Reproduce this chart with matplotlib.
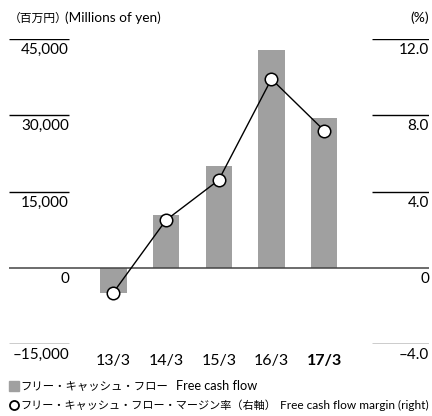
import numpy as np
import matplotlib.pyplot as plt
from matplotlib.patches import Rectangle
from matplotlib.lines import Line2D

plt.rcParams['font.family'] = ['Lato', 'Noto Sans CJK JP', 'DejaVu Sans']

# data
years = ['13/3', '14/3', '15/3', '16/3', '17/3']
fcf = [-5000, 10300, 20000, 42900, 29500]          # millions of yen
margin = [-1.3, 2.5, 4.6, 9.9, 7.2]                 # %
left_ticks = [45000, 30000, 15000, 0, -15000]
left_labels = ['45,000', '30,000', '15,000', '0', '\u201315,000']
right_ticks = [12.0, 8.0, 4.0, 0, -4.0]
right_labels = ['12.0', '8.0', '4.0', '0', '\u20134.0']

W, H = 432, 416
fig = plt.figure(figsize=(W / 100, H / 100), dpi=100)
ax = fig.add_axes([9 / W, (H - 344) / H, 420 / W, (344 - 39) / H])
ax2 = ax.twinx()

x = np.arange(len(years))
bar_col = '#a0a0a0'
ax.bar(x, fcf, width=0.5, color=bar_col, zorder=2)
ax.set_xlim(-1.98, 5.99)
ax.set_ylim(-15000, 45000)
ax2.set_ylim(-4, 12)

ax2.plot(x, margin, color='black', lw=1, marker='o', ms=9,
         mfc='white', mec='black', mew=1.1, zorder=5)

for a in (ax, ax2):
    for s in a.spines.values():
        s.set_visible(False)
    a.set_xticks([])
    a.set_yticks([])

# tick lines + labels (left)
lx = 60 / 420
for v, lab in zip(left_ticks, left_labels):
    if v == 0:
        ax.axhline(0, color='#444444', lw=1.1, zorder=3)
    else:
        ax.hlines(v, 0, lx, color='black', lw=1, transform=ax.get_yaxis_transform())
    ax.annotate(lab, (lx, v), xycoords=('axes fraction', 'data'),
                xytext=(0, -8), textcoords='offset points',
                ha='right', va='center', fontsize=11)

# tick lines + labels (right)
rx = (372 - 9) / 420
for v, lab in zip(right_ticks, right_labels):
    if v != 0:
        ax2.hlines(v, rx, 1, color='black', lw=1, transform=ax2.get_yaxis_transform())
    ax2.annotate(lab, (1, v), xycoords=('axes fraction', 'data'),
                 xytext=(0, -8), textcoords='offset points',
                 ha='right', va='center', fontsize=11)

# category labels
for i, yr in enumerate(years):
    ax.annotate(yr, (i, 0), xycoords=('data', 'axes fraction'),
                xytext=(0, -12.5), textcoords='offset points',
                ha='center', va='center', fontsize=11.5,
                fontweight='bold' if i == len(years) - 1 else 'normal')

# headers
fig.text(9 / W, 1 - 18 / H, '（百万円）', ha='left', va='center', fontsize=8.5)
fig.text(65 / W, 1 - 18 / H, '(Millions of yen)', ha='left', va='center', fontsize=9.8)
fig.text(429 / W, 1 - 18 / H, '(%)', ha='right', va='center', fontsize=10)

# legend
fig.patches.append(Rectangle((9 / W, 1 - 391 / H), 10 / W, 10 / H,
                             transform=fig.transFigure, color=bar_col))
fig.text(20 / W, 1 - 386 / H, 'フリー・キャッシュ・フロー',
         ha='left', va='center', fontsize=8.2)
fig.text(176 / W, 1 - 386 / H, 'Free cash flow',
         ha='left', va='center', fontsize=9.2)
fig.lines.append(Line2D([13.5 / W], [1 - 405 / H], transform=fig.transFigure,
                        marker='o', ms=6.5, mfc='white', mec='black', mew=1.3, ls='none'))
fig.text(20 / W, 1 - 405 / H, 'フリー・キャッシュ・フロー・マージン率（右軸）',
         ha='left', va='center', fontsize=8.0)
fig.text(429 / W, 1 - 405 / H, 'Free cash flow margin (right)',
         ha='right', va='center', fontsize=8.6)

fig.savefig('out.png', dpi=100)
